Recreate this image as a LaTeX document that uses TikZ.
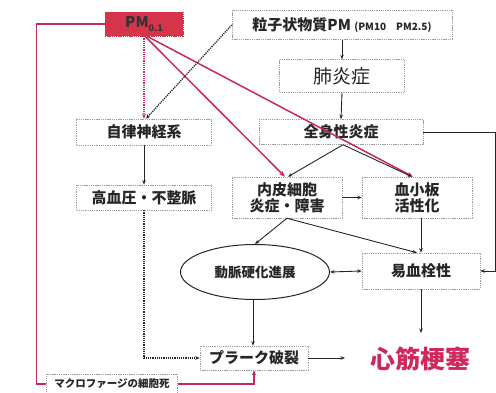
\documentclass[tikz,border=0pt]{standalone}
\usepackage{fontspec}
\setmainfont{Noto Sans CJK JP}
\usetikzlibrary{arrows.meta,shapes.geometric}
\definecolor{pmred}{RGB}{214,52,74}
\definecolor{lred}{RGB}{200,42,88}
\definecolor{mired}{RGB}{208,40,92}
\begin{document}
\begin{tikzpicture}[x=1pt,y=-1pt,
  box/.style={draw=gray!75, dash pattern=on 1.3pt off 0.9pt, line width=0.5pt, inner sep=0pt, font=\bfseries\fontsize{15}{17}\selectfont, text=black!85, align=center},
  arr/.style={-{Stealth[length=4.5pt,width=3.5pt]}, line width=0.9pt, black!85},
  redarr/.style={-{Stealth[length=6pt,width=4.5pt]}, line width=1.5pt, lred},
  redline/.style={line width=1.1pt, lred},
  dotarr/.style={-{Stealth[length=4.5pt,width=3.5pt]}, line width=1.3pt, black!85, dash pattern=on 1.2pt off 1pt},
]
\useasboundingbox (0,0) rectangle (496,393);
% nodes
\node[box, fill=pmred, draw=pmred, minimum width=78, minimum height=24, font=\bfseries\fontsize{15}{17}\selectfont, text=black!80] (pm01) at (144,24) {PM\raisebox{-3.5pt}{\fontsize{9}{10}\selectfont 0.1}};
\node[box, minimum width=220, minimum height=29] (pm) at (342,25) {粒子状物質PM {\fontsize{10}{12}\selectfont (PM10\quad PM2.5)}};
\node[box, minimum width=125, minimum height=33, font=\fontsize{19}{21}\selectfont] (lung) at (342,76) {肺炎症};
\node[box, minimum width=164, minimum height=25] (sys) at (341,132) {全身性炎症};
\node[box, minimum width=135, minimum height=26] (ans) at (144,132) {自律神経系};
\node[box, minimum width=135, minimum height=25] (hyp) at (144,197.5) {高血圧・不整脈};
\node[box, minimum width=110, minimum height=41, font=\bfseries\fontsize{15}{16}\selectfont] (endo) at (287,197.5) {内皮細胞\\炎症・障害};
\node[box, minimum width=110, minimum height=41, font=\bfseries\fontsize{15}{16}\selectfont] (plt) at (417,197.5) {血小板\\活性化};
\node[ellipse, draw=black!85, line width=1pt, minimum width=149, minimum height=55, inner sep=0pt, font=\bfseries\fontsize{13.5}{15}\selectfont, text=black!85] (ath) at (255,272) {動脈硬化進展};
\node[box, minimum width=118, minimum height=36] (thr) at (421,271) {易血栓性};
\node[box, minimum width=108, minimum height=24] (plq) at (254,358) {プラーク破裂};
\node[box, minimum width=131, minimum height=20, font=\bfseries\fontsize{10.5}{12}\selectfont] (mac) at (112,384) {マクロファージの細胞死};
\node[inner sep=0pt, font=\bfseries\fontsize{25}{28}\selectfont, text=mired] (mi) at (420,359) {心筋梗塞};
\coordinate (plqend) at (345,358);
\coordinate (thrend) at (421,333);
% red connectors
\draw[redline] (pm01.west) -- ++(-68,0) |- (mac.west);
\draw[redline, -{Stealth[length=5pt,width=4pt]}] (mac.east) -| (plq.south);
\draw[lred, line width=1.3pt, dash pattern=on 1.2pt off 1pt, -{Stealth[length=5pt,width=4pt]}] (pm01.south) -- (ans.north);
\draw[redarr] ([xshift=1]pm01.south) -- ([xshift=-2]endo.north);
\draw[redarr] ([xshift=3]pm01.south) -- ([xshift=-4]plt.north);
% black connectors
\draw[dotarr] (pm.west) -- ([xshift=2]ans.north);
\draw[arr] (pm.south) -- (lung.north);
\draw[arr] (lung.south) -- (sys.north);
\draw[arr] (ans.south) -- (hyp.north);
\draw[arr] (sys.east) -- (495,132) |- (thr.east);
\draw[arr] ([xshift=2]sys.south) -- ([xshift=1]endo.north);
\draw[arr] ([xshift=2]sys.south) -- ([xshift=-5]plt.north);
\draw[arr] (endo.east) -- (plt.west);
\draw[arr] (endo.south) -- (ath.north);
\draw[arr] (endo.south) -- ([xshift=-4]thr.north);
\draw[arr] ([xshift=4]plt.south) -- ([xshift=0]thr.north);
\draw[arr, {Stealth[length=4.5pt,width=3.5pt]}-{Stealth[length=4.5pt,width=3.5pt]}] (ath.east) -- (thr.west);
\draw[arr] ([xshift=-2]ath.south) -- ([xshift=-1]plq.north);
\draw[dotarr] (hyp.south) |- (plq.west);
\draw[arr] (plq.east) -- (plqend);
\draw[arr] (thr.south) -- (thrend);
\end{tikzpicture}
\end{document}
